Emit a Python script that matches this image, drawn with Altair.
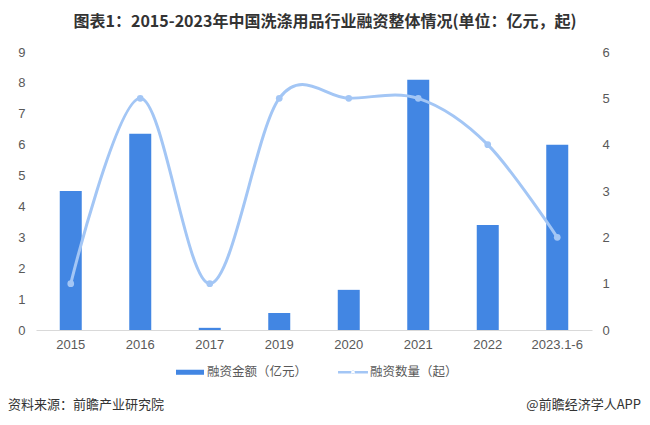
import altair as alt
import pandas as pd

# ---- data ----
years = ["2015", "2016", "2017", "2019", "2020", "2021", "2022", "2023.1-6"]
amount = [4.5, 6.35, 0.07, 0.55, 1.3, 8.1, 3.4, 6.0]   # 融资金额（亿元）
count = [1, 5, 1, 5, 5, 5, 4, 2]                         # 融资数量（起）
series = ["融资金额（亿元）", "融资数量（起）"]
colors = ["#4286E3", "#A3C6F5"]
title_text = "图表1：2015-2023年中国洗涤用品行业融资整体情况(单位：亿元，起)"
source_left = "资料来源：前瞻产业研究院"
source_right = "@前瞻经济学人APP"

df = pd.DataFrame({"year": years, "amount": amount, "count": count})
legend_df = pd.DataFrame({"series": series})

LABEL = "#595959"
CJK = "Noto Sans CJK SC"
LAT = "Liberation Sans"

x = alt.X(
    "year:N", sort=years,
    scale=alt.Scale(paddingInner=0, paddingOuter=0),
    axis=alt.Axis(title=None, labelAngle=0, ticks=False, domainColor="#D9D9D9",
                  labelColor=LABEL, labelFontSize=13, labelPadding=8, labelFont=LAT),
)

bars = alt.Chart(df).mark_bar(size=22, color=colors[0]).encode(
    x=x,
    y=alt.Y("amount:Q", scale=alt.Scale(domain=[0, 9]),
            axis=alt.Axis(title=None, orient="left", values=list(range(10)), grid=False,
                          domain=False, ticks=False, labelPadding=11, labelColor=LABEL,
                          labelFontSize=13, labelFont=LAT)),
)

y2 = alt.Y("count:Q", scale=alt.Scale(domain=[0, 6]),
           axis=alt.Axis(title=None, orient="right", values=list(range(7)), grid=False,
                         domain=False, ticks=False, labelPadding=10, labelColor=LABEL,
                         labelFontSize=13, labelFont=LAT))

line = alt.Chart(df).mark_line(interpolate="cardinal", tension=0, color=colors[1],
                               strokeWidth=3).encode(x=x, y=y2)
points = alt.Chart(df).mark_point(filled=True, size=45, color=colors[1], opacity=1).encode(x=x, y=y2)

paths = [
    "M-1,-0.18H1V0.18H-1Z",
    "M-1.07,-0.09H1.07V0.09H-1.07Z M-0.13,0A0.13,0.13 0 1,0 0.13,0A0.13,0.13 0 1,0 -0.13,0Z",
]
leg = alt.Legend(title=None, orient="none", legendX=140, legendY=306, direction="horizontal",
                 symbolSize=784, labelFontSize=12.5, labelColor=LABEL, labelFont=CJK,
                 labelOffset=3, columnPadding=30, symbolStrokeWidth=0, padding=0)

legend_layer = alt.Chart(legend_df).mark_point(filled=True, size=0, opacity=1).encode(
    color=alt.Color("series:N", scale=alt.Scale(domain=series, range=colors), legend=leg),
    shape=alt.Shape("series:N", scale=alt.Scale(domain=series, range=paths), legend=leg),
)

foot_l = alt.Chart(pd.DataFrame({"t": [source_left]})).mark_text(
    align="left", baseline="middle", fontSize=13, color="#333333", font=CJK
).encode(text="t:N", x=alt.value(-28), y=alt.value(353))
foot_r = alt.Chart(pd.DataFrame({"t": [source_right]})).mark_text(
    align="right", baseline="middle", fontSize=13, color="#333333", font=CJK
).encode(text="t:N", x=alt.value(605), y=alt.value(353))

chart = alt.layer(
    bars, alt.layer(line, points), legend_layer, foot_l, foot_r
).resolve_scale(y="independent").properties(
    width=556, height=278,
    title=alt.TitleParams(title_text, fontSize=16, fontWeight="bold", font=CJK,
                          color="#333333", anchor="middle", dx=11, offset=16),
    autosize=alt.AutoSizeParams(type="none"),
    padding={"left": 28, "top": 44, "right": 50, "bottom": 87},
).configure_view(stroke=None)

chart.save("out.html", embed_options={"renderer": "svg", "actions": False})
